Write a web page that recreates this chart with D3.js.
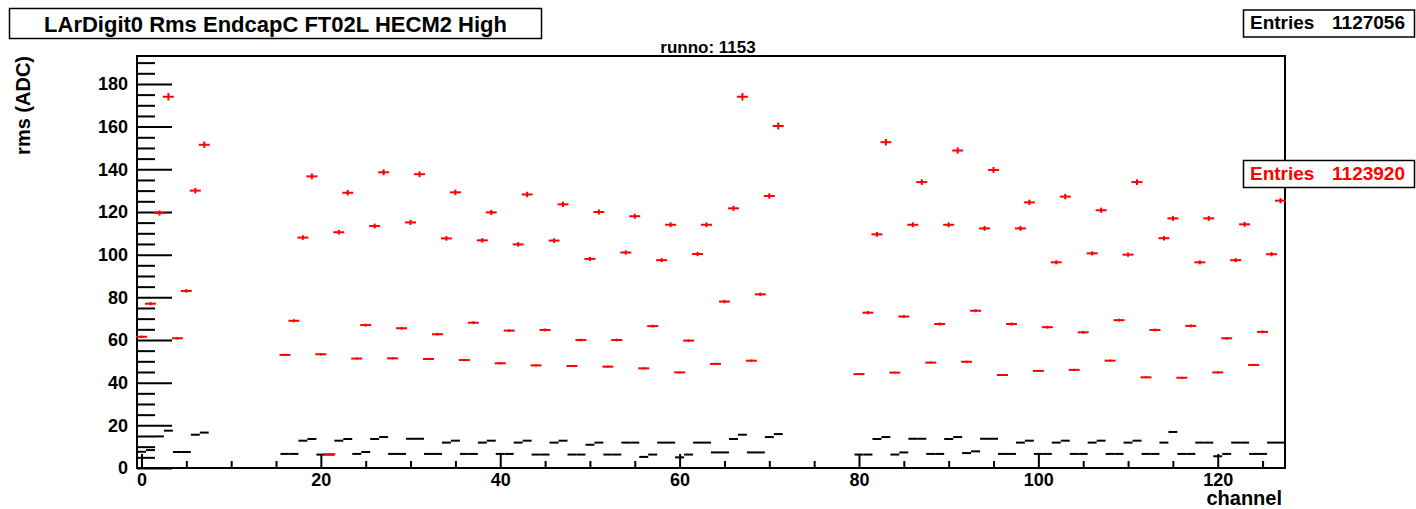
<!DOCTYPE html>
<html>
<head>
<meta charset="utf-8">
<script src="https://cdn.jsdelivr.net/npm/d3@7"></script>
<style>
  body { margin: 0; background: #fff; }
  svg { display: block; font-family: "Liberation Sans", Arial, sans-serif; font-weight: bold; }
</style>
</head>
<body>
<svg id="chart" width="1416" height="509"></svg>
<script>
// Labels
const titleText = 'LArDigit0 Rms EndcapC FT02L HECM2 High';
const runLabel = 'runno: 1153';
const xTitle = 'channel';
const yTitle = 'rms (ADC)';
const entriesBlack = '1127056';
const entriesRed = '1123920';

// Axis ticks
const xMajor = [0, 20, 40, 60, 80, 100, 120];
const yMajor = [0, 20, 40, 60, 80, 100, 120, 140, 160, 180];

// rms per channel (null = empty bin), 8 channels per line
const rmsBlack = [
    7.6, 8.4, 14.8, 17.5, 7.5, 7.5, 15.6, 16.6,
    null, null, null, null, null, null, null, null,
    6.6, 6.6, 12.8, 13.6, 6.3, 6.3, 12.8, 13.6,
    6.6, 7.5, 13.6, 14.5, 6.6, 6.6, 13.7, 13.7,
    6.6, 6.6, 11.9, 12.8, 6.6, 6.6, 11.9, 12.8,
    6.6, 6.6, 11.9, 12.8, 6.3, 6.3, 11.9, 12.8,
    6.3, 6.3, 10.9, 11.9, 6.3, 6.3, 11.9, 11.9,
    5.2, 6.3, 11.9, 11.9, 5.0, 6.3, 11.9, 11.9,
    7.3, 7.3, 13.6, 15.6, 7.3, 7.3, 14.5, 15.9,
    null, null, null, null, null, null, null, null,
    6.3, 6.3, 13.6, 14.5, 6.3, 7.3, 13.7, 13.7,
    6.6, 6.6, 13.6, 14.5, 7.0, 7.8, 13.7, 13.7,
    6.6, 6.6, 11.9, 12.8, 6.6, 6.6, 11.9, 12.8,
    6.6, 6.6, 11.9, 12.8, 6.6, 6.6, 11.9, 12.8,
    6.6, 6.6, 11.9, 16.9, 6.6, 6.6, 11.9, 11.9,
    5.5, 6.6, 11.9, 11.9, 6.6, 6.6, 11.9, 11.9
];

const rmsRed = [
    61.5, 77, 119.5, 174, 60.8, 83, 130, 151.5,
    null, null, null, null, null, null, null, null,
    53, 69, 108, 136.7, 53.3, 6.4, 110.5, 129,
    51.3, 67, 113.4, 138.6, 51.4, 65.5, 115.1, 137.7,
    51.1, 62.7, 107.6, 129.2, 50.6, 68.1, 106.7, 119.8,
    49.1, 64.4, 104.8, 128.2, 48.1, 64.7, 106.6, 123.6,
    47.8, 60, 98, 120, 47.5, 60, 101, 118,
    46.7, 66.5, 97.4, 114, 44.8, 59.7, 100.3, 114,
    48.8, 78, 121.7, 174, 50.3, 81.4, 127.5, 160.3,
    null, null, null, null, null, null, null, null,
    44, 72.8, 109.5, 152.7, 44.7, 71, 114, 134,
    49.4, 67.5, 114, 148.8, 49.8, 73.7, 112.3, 139.7,
    43.6, 67.5, 112.3, 124.5, 45.5, 66, 96.4, 127.2,
    46, 63.6, 100.6, 120.8, 50.3, 69.3, 100, 134,
    42.5, 64.7, 107.7, 117, 42.3, 66.6, 96.4, 117,
    44.8, 60.8, 97.4, 114.2, 48.3, 63.8, 100.2, 125.3
];

const relErr = 0.01; // error bars are about 1% of the rms

const svg = d3.select('#chart');

const frame = { left: 137, right: 1285, top: 56, bottom: 468 };

const x = d3.scaleLinear().domain([-0.5, 127.5]).range([frame.left, frame.right]);
const y = d3.scaleLinear().domain([0, 193.1]).range([frame.bottom, frame.top]);

// minor ticks every 5
const xMinor = d3.range(0, 128, 5).filter(v => v % 20 !== 0);
const yMinor = d3.range(0, 193, 5).filter(v => v % 20 !== 0);

// Y axis
const yAxis = svg.append('g').attr('transform', `translate(${frame.left},0)`);
yAxis.call(d3.axisLeft(y).tickValues(yMajor).tickSize(-35).tickPadding(9).tickFormat(d3.format('d')));
yAxis.append('g').call(d3.axisLeft(y).tickValues(yMinor).tickSize(-18).tickFormat(''));

// X axis
const xAxis = svg.append('g').attr('transform', `translate(0,${frame.bottom})`);
xAxis.call(d3.axisBottom(x).tickValues(xMajor).tickSize(-14).tickPadding(5).tickFormat(d3.format('d')));
xAxis.append('g').call(d3.axisBottom(x).tickValues(xMinor).tickSize(-7).tickFormat(''));

svg.selectAll('.domain').remove();
svg.selectAll('.tick line').attr('stroke', '#000').attr('stroke-width', 2);
svg.selectAll('.tick text')
    .attr('fill', '#000')
    .style('font-family', '"Liberation Sans", Arial, sans-serif')
    .style('font-weight', 'bold')
    .style('font-size', '18px');

// frame
svg.append('rect')
    .attr('x', frame.left)
    .attr('y', frame.top)
    .attr('width', frame.right - frame.left)
    .attr('height', frame.bottom - frame.top)
    .attr('fill', 'none')
    .attr('stroke', '#000')
    .attr('stroke-width', 2);

function drawSeries(values, color, cap) {
    const pts = values.map((v, i) => ({ ch: i, v: v })).filter(d => d.v !== null);
    const g = svg.append('g').attr('stroke', color).attr('stroke-width', 2);

    g.selectAll('line.bin')
        .data(pts)
        .enter()
        .append('line')
        .attr('class', 'bin')
        .attr('x1', d => x(d.ch - 0.5))
        .attr('x2', d => x(d.ch + 0.5))
        .attr('y1', d => y(d.v))
        .attr('y2', d => y(d.v))
        .attr('stroke-linecap', cap);

    g.selectAll('line.err')
        .data(pts)
        .enter()
        .append('line')
        .attr('class', 'err')
        .attr('x1', d => x(d.ch))
        .attr('x2', d => x(d.ch))
        .attr('y1', d => y(d.v * (1 - relErr)))
        .attr('y2', d => y(d.v * (1 + relErr)));
}

drawSeries(rmsBlack, '#000', 'butt');
drawSeries(rmsRed, '#ff0000', 'square');

// axis titles
svg.append('text')
    .attr('x', 1282)
    .attr('y', 505)
    .attr('text-anchor', 'end')
    .style('font-size', '20px')
    .text(xTitle);

svg.append('text')
    .attr('transform', `translate(30,${frame.top}) rotate(-90)`)
    .attr('text-anchor', 'end')
    .style('font-size', '20px')
    .text(yTitle);

svg.append('text')
    .attr('x', 708)
    .attr('y', 53)
    .attr('text-anchor', 'middle')
    .style('font-size', '17px')
    .text(runLabel);

// title box
svg.append('rect')
    .attr('x', 9.5).attr('y', 8.5)
    .attr('width', 532).attr('height', 30)
    .attr('fill', '#fff').attr('stroke', '#000').attr('stroke-width', 1.5);
svg.append('text')
    .attr('x', 275.5)
    .attr('y', 32)
    .attr('text-anchor', 'middle')
    .style('font-size', '22px')
    .text(titleText);

// stats boxes
function statsBox(top, value, color) {
    svg.append('rect')
        .attr('x', 1243.5).attr('y', top)
        .attr('width', 171).attr('height', 27)
        .attr('fill', '#fff').attr('stroke', '#000').attr('stroke-width', 1.5);
    svg.append('text')
        .attr('x', 1250).attr('y', top + 19)
        .attr('fill', color)
        .style('font-size', '19px')
        .text('Entries');
    svg.append('text')
        .attr('x', 1405).attr('y', top + 19)
        .attr('text-anchor', 'end')
        .attr('fill', color)
        .style('font-size', '19px')
        .text(value);
}

statsBox(10, entriesBlack, '#000');
statsBox(160.5, entriesRed, '#ff0000');
</script>
</body>
</html>
